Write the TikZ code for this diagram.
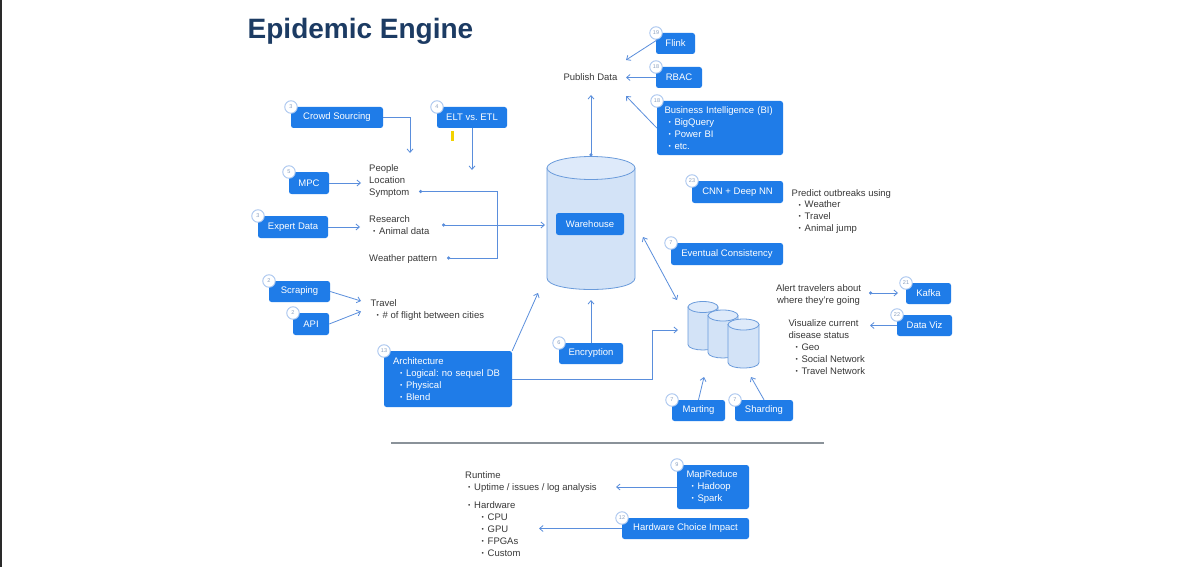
\documentclass[tikz,border=0pt]{standalone}
\usepackage{fontspec}
\setmainfont{Liberation Sans}
\usetikzlibrary{arrows.meta}
\frenchspacing
\definecolor{boxblue}{HTML}{1F7CE8}
\definecolor{linecol}{HTML}{5A8EDC}
\definecolor{badgeline}{HTML}{A9C6EF}
\definecolor{badgetext}{HTML}{8AA0C0}
\definecolor{textgray}{HTML}{383838}
\definecolor{titleblue}{HTML}{1C3B63}
\definecolor{cylfill}{HTML}{D3E3F7}
\definecolor{cyltop}{HTML}{DEEAFA}
\definecolor{cylline}{HTML}{6A9BDB}
\definecolor{sepgray}{HTML}{8A9299}
\definecolor{edgedark}{HTML}{2A2A2A}
\definecolor{markyellow}{HTML}{F2D200}
\newcommand\fs{\fontsize{9.5}{11.9}\selectfont}
\newcommand\bul[1][5pt]{\hspace*{#1}\makebox[6pt][l]{\raisebox{0.9pt}{\fontsize{6.5}{6}\selectfont\textbullet}}}
\newcommand\mybox[8][]{%
  \node[bx,#1,minimum width={(#5-#3)*1pt},minimum height={(#6-#4)*1pt}] (#2) at ({(#3+#5)/2},{(#4+#6)/2}) {#7};
  \node[badge] (#2b) at (#3,#4) {#8};}
\newcommand\drawcyl[5]{%
  \path[cylf] (#1,#3) -- (#1,#4) .. controls (#1,{#4+4/3*#5}) and (#2,{#4+4/3*#5}) .. (#2,#4) -- (#2,#3) -- cycle;
  \path[cylf,fill=cyltop] ({(#1+#2)/2},#3) ellipse [x radius={(#2-#1)/2}, y radius=#5];}
\tikzset{
  bx/.style={fill=boxblue, rounded corners=2.5pt, text=white, font=\fs, inner sep=0pt, align=center},
  badge/.style={circle, fill=white, draw=badgeline, line width=0.9pt, minimum size=12.5pt, inner sep=0pt, font=\fontsize{5.5}{5.5}\selectfont, text=badgetext},
  txt/.style={font=\fs, text=textgray, inner sep=0pt, align=left, anchor=north west},
  conn/.style={draw=linecol, line width=0.8pt},
  arr/.style={conn, -{Straight Barb[length=3.5pt,width=6pt]}},
  dotarr/.style={conn, {Circle[length=3.2pt]}-{Straight Barb[length=3.5pt,width=6pt]}},
  cylf/.style={fill=cylfill, draw=cylline, line width=0.8pt},
}
\begin{document}
\begin{tikzpicture}[x=1pt,y=-1pt]
\useasboundingbox (0,0) rectangle (1193,567);
\fill[white] (0,0) rectangle (1193,567);
\fill[edgedark] (0,0) rectangle (2,567);

% title
\node[anchor=base west, inner sep=0pt, font=\fontsize{28}{30}\selectfont\bfseries, text=titleblue] (title) at (247.5,38.5) {Epidemic Engine};

% cylinders
\drawcyl{547}{635}{168}{278}{11.5}
\drawcyl{688}{718}{307}{344.5}{5.5}
\drawcyl{708}{738}{315.5}{352.5}{5.5}
\drawcyl{728}{759}{324.5}{362.5}{5.5}

% coordinates
\coordinate (crowdend) at (410,153);
\coordinate (eltend) at (472,170);
\coordinate (mpcend) at (361,183);
\coordinate (expertend) at (360,227);
\coordinate (scrapend) at (361,301);
\coordinate (apiend) at (361,311.5);
\coordinate (symdot) at (419,191.5);
\coordinate (corner) at (497,258);
\coordinate (wdot) at (447,258);
\coordinate (resdot) at (442,225);
\coordinate (whin) at (545,225);
\coordinate (whtop) at (591,156.5);
\coordinate (pubin) at (591,95);
\coordinate (flinkst) at (657,40);
\coordinate (pubtr) at (626,60);
\coordinate (pubr) at (626,77.5);
\coordinate (pubbr) at (626,96);
\coordinate (whright) at (643,237);
\coordinate (cylul) at (677,300);
\coordinate (whbl) at (538,293);
\coordinate (archturn) at (652,330);
\coordinate (cylin) at (678,330);
\coordinate (whbot) at (591,300);
\coordinate (mtip) at (704,377);
\coordinate (stip) at (751,377);
\coordinate (alertdot) at (869,293);
\coordinate (kafkain) at (898,293);
\coordinate (dvend) at (870,325.5);
\coordinate (mrend) at (616,487);
\coordinate (hwend) at (539,528.5);
\coordinate (sepl) at (391,443);
\coordinate (sepr) at (824,443);

% boxes
\mybox{crowd}{291}{107}{383}{128}{Crowd Sourcing}{3}
\mybox{elt}{437}{107}{507}{128}{ELT vs. ETL}{4}
\mybox{mpc}{289}{172}{329}{194}{MPC}{5}
\mybox{expert}{258}{216}{328}{238}{Expert Data}{3}
\mybox{scraping}{269}{281}{330}{302}{Scraping}{2}
\mybox{api}{293}{313}{329}{335}{API}{2}
\mybox[align=left,text width=110pt]{arch}{384}{351}{512}{407}{Architecture\\\bul[7pt]Logical: no sequel DB\\\bul[7pt]Physical\\\bul[7pt]Blend}{13}
\mybox{encr}{559}{343}{623}{364}{Encryption}{6}
\mybox{flink}{656}{33}{695}{54}{Flink}{19}
\mybox{rbac}{656}{67}{702}{88}{RBAC}{18}
\mybox[align=left,text width=111pt]{bi}{657}{101}{783}{155}{Business Intelligence (BI)\\\bul[4pt]BigQuery\\\bul[4pt]Power BI\\\bul[4pt]etc.}{18}
\mybox{cnn}{692}{181}{783}{203}{CNN + Deep NN}{23}
\mybox{eventual}{671}{243}{783}{265}{Eventual Consistency}{7}
\mybox{marting}{672}{400}{725}{421}{Marting}{7}
\mybox{sharding}{735}{400}{793}{421}{Sharding}{7}
\mybox{kafka}{906}{283}{951}{304}{Kafka}{21}
\mybox{dataviz}{897}{315}{952}{336}{Data Viz}{22}
\mybox[align=left,text width=53pt]{mapreduce}{677}{465}{749}{509}{MapReduce\\\bul[5pt]Hadoop\\\bul[5pt]Spark}{9}
\mybox{hw}{622}{518}{749}{539}{Hardware Choice Impact}{12}
\node[bx, minimum width=68pt, minimum height=22pt] (wh) at (590,224) {Warehouse};

% texts
\node[txt, anchor=center] (publish) at (590.5,77) {Publish Data};
\node[txt] (people) at (369,164.5) {People\\Location\\Symptom};
\node[txt] (research) at (369,215.8) {Research\\\bul[4pt]Animal data};
\node[txt] (weather) at (369,254.5) {Weather pattern};
\node[txt] (travel) at (370.5,299.2) {Travel\\\bul[6pt]\# of flight between cities};
\node[txt] (predict) at (791.5,189) {Predict outbreaks using\\\bul[7pt]Weather\\\bul[7pt]Travel\\\bul[7pt]Animal jump};
\node[txt, anchor=north, align=center] (alert) at (818.5,284.5) {Alert travelers about\\where they're going};
\node[txt] (visual) at (788.3,319.8) {Visualize current\\disease status\\\bul[7pt]Geo\\\bul[7pt]Social Network\\\bul[7pt]Travel Network};
\node[txt] (runtime) at (465,471.5) {Runtime\\\bul[3pt]Uptime / issues / log analysis\\[6.5pt]\bul[3pt]Hardware\\\bul[16.5pt]CPU\\\bul[16.5pt]GPU\\\bul[16.5pt]FPGAs\\\bul[16.5pt]Custom};

% connectors
\draw[arr] (crowd.east) -| (crowdend);
\draw[arr] (elt.south) -- (eltend);
\draw[arr] (mpc.east) -- (mpcend);
\draw[arr] (expert.east) -- (expertend);
\draw[arr] (scraping.east) -- (scrapend);
\draw[arr] (api.east) -- (apiend);
\draw[conn, {Circle[length=3.2pt]}-{Circle[length=3.2pt]}] (symdot) -| (corner) -- (wdot);
\draw[dotarr] (resdot) -- (whin);
\draw[dotarr] (whtop) -- (pubin);
\draw[arr] (flinkst) -- (pubtr);
\draw[arr] (rbac.west) -- (pubr);
\draw[arr] (bi.west) -- (pubbr);
\draw[conn, {Straight Barb[length=3.5pt,width=6pt]}-{Straight Barb[length=3.5pt,width=6pt]}] (whright) -- (cylul);
\draw[arr] (arch.north east) -- (whbl);
\draw[arr] (arch.east) -| (archturn) -- (cylin);
\draw[arr] (encr.north) -- (whbot);
\draw[arr] (marting.north) -- (mtip);
\draw[arr] (sharding.north) -- (stip);
\draw[dotarr] (alertdot) -- (kafkain);
\draw[arr] (dataviz.west) -- (dvend);
\draw[arr] (mapreduce.west) -- (mrend);
\draw[arr] (hw.west) -- (hwend);

% separator
\draw[sepgray, line width=1.1pt] (sepl) -- (sepr);

% yellow mark
\fill[markyellow] (451,131) rectangle (454,141);
\end{tikzpicture}
\end{document}
